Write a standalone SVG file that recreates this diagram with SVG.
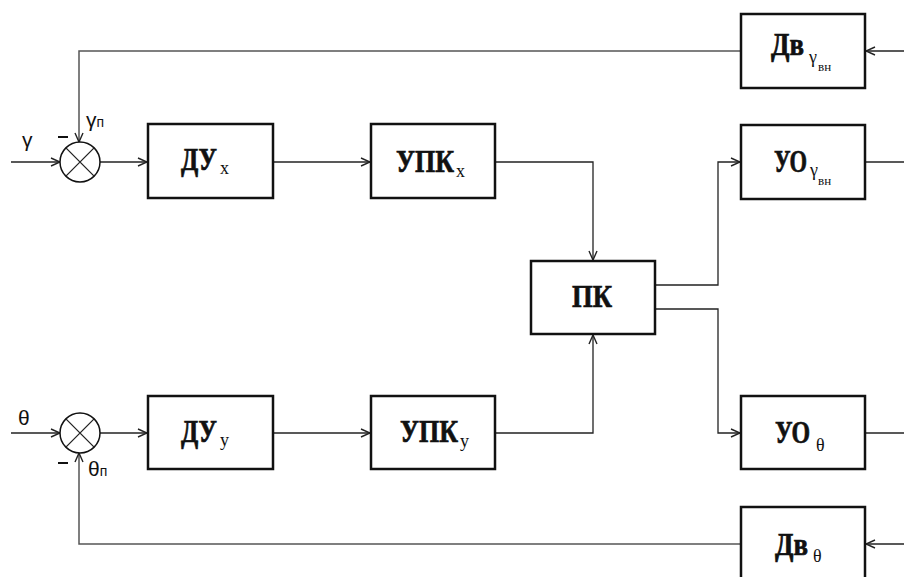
<svg xmlns="http://www.w3.org/2000/svg" width="904" height="577" viewBox="0 0 904 577">
<defs>
<style>
.box{fill:#fff;stroke:#111;stroke-width:2.5}
.ln{fill:none;stroke:#222;stroke-width:1.3}
.fb{fill:none;stroke:#555;stroke-width:1.5}
.sum{fill:#fff;stroke:#111;stroke-width:1.5}
.lbl{font-family:"Liberation Serif","Times New Roman","DejaVu Serif",serif;font-weight:bold;font-size:32px;fill:#111;stroke:#111;stroke-width:0.7}
.sub{font-family:"Liberation Serif","DejaVu Serif",serif;font-size:18px;fill:#111}
.sub2{font-family:"Liberation Serif","DejaVu Serif",serif;font-size:13px;fill:#111}
.sig{font-family:"Liberation Sans","DejaVu Sans",sans-serif;font-size:21px;fill:#111}
.sigs{font-family:"Liberation Sans","DejaVu Sans",sans-serif;font-size:14px;fill:#111}
</style>
<marker id="ar" viewBox="0 0 10 10" refX="10" refY="5" markerWidth="10" markerHeight="10" markerUnits="userSpaceOnUse" orient="auto">
<path d="M1,1 L10,5 L1,9" fill="none" stroke="#222" stroke-width="1.4"/>
</marker>
</defs>
<g id="connectors">
<path class="ln" d="M11,162 H60" marker-end="url(#ar)"/>
<path class="ln" d="M11,433 H60" marker-end="url(#ar)"/>
<path class="ln" d="M100,162 H147" marker-end="url(#ar)"/>
<path class="ln" d="M100,433 H147" marker-end="url(#ar)"/>
<path class="ln" d="M274,162 H370" marker-end="url(#ar)"/>
<path class="ln" d="M274,433 H370" marker-end="url(#ar)"/>
<path class="ln" d="M496,162 H593 V260" marker-end="url(#ar)"/>
<path class="ln" d="M496,433 H593 V335" marker-end="url(#ar)"/>
<path class="ln" d="M656,285 H718 V162 H740" marker-end="url(#ar)"/>
<path class="ln" d="M656,309 H718 V433 H740" marker-end="url(#ar)"/>
<path class="ln" d="M866,162 H904"/>
<path class="ln" d="M866,433 H904"/>
<path class="ln" d="M904,51 H866" marker-end="url(#ar)"/>
<path class="ln" d="M904,544 H866" marker-end="url(#ar)"/>
<path class="fb" d="M740,51 H79 V142" marker-end="url(#ar)"/>
<path class="fb" d="M740,544 H79 V453" marker-end="url(#ar)"/>
</g>
<g id="sum1">
<circle class="sum" cx="80" cy="162" r="20"/>
<path class="ln" d="M65.9,147.9 L94.1,176.1 M94.1,147.9 L65.9,176.1"/>
<text class="sig" x="22" y="147">γ</text>
<text class="sig" x="86" y="127">γ<tspan class="sigs">п</tspan></text>
<path d="M58,137 H68" stroke="#111" stroke-width="2"/>
</g>
<g id="sum2">
<circle class="sum" cx="80" cy="433" r="20"/>
<path class="ln" d="M65.9,418.9 L94.1,447.1 M94.1,418.9 L65.9,447.1"/>
<text class="sig" x="18" y="425">θ</text>
<text class="sig" x="88" y="476">θ<tspan class="sigs">п</tspan></text>
<path d="M58,463 H68" stroke="#111" stroke-width="2"/>
</g>
<g id="DUx">
<rect class="box" x="148" y="124" width="125" height="74"/>
<text class="lbl" x="181" y="170" textLength="36" lengthAdjust="spacingAndGlyphs">ДУ</text>
<text class="sub" x="220" y="174">x</text>
</g>
<g id="DUy">
<rect class="box" x="148" y="396" width="125" height="73"/>
<text class="lbl" x="181" y="442" textLength="36" lengthAdjust="spacingAndGlyphs">ДУ</text>
<text class="sub" x="220" y="446">y</text>
</g>
<g id="UPKx">
<rect class="box" x="371" y="124" width="124" height="74"/>
<text class="lbl" x="396" y="172" textLength="58" lengthAdjust="spacingAndGlyphs">УПК</text>
<text class="sub" x="456" y="177">x</text>
</g>
<g id="UPKy">
<rect class="box" x="371" y="396" width="124" height="73"/>
<text class="lbl" x="400" y="442" textLength="58" lengthAdjust="spacingAndGlyphs">УПК</text>
<text class="sub" x="460" y="447">y</text>
</g>
<g id="PK">
<rect class="box" x="531" y="261" width="124" height="73"/>
<text class="lbl" x="572" y="307" textLength="40" lengthAdjust="spacingAndGlyphs">ПК</text>
</g>
<g id="DvG">
<rect class="box" x="741" y="14" width="124" height="74"/>
<text class="lbl" x="771" y="55" textLength="33" lengthAdjust="spacingAndGlyphs">Дв</text>
<text class="sub" x="809" y="63">γ</text>
<text class="sub2" x="818" y="71">вн</text>
</g>
<g id="UOG">
<rect class="box" x="741" y="125" width="124" height="74"/>
<text class="lbl" x="774" y="172" textLength="33" lengthAdjust="spacingAndGlyphs">УО</text>
<text class="sub" x="810" y="176">γ</text>
<text class="sub2" x="818" y="185">вн</text>
</g>
<g id="UOT">
<rect class="box" x="741" y="396" width="124" height="73"/>
<text class="lbl" x="775" y="443" textLength="35" lengthAdjust="spacingAndGlyphs">УО</text>
<text class="sub" x="816" y="451">θ</text>
</g>
<g id="DvT">
<rect class="box" x="741" y="507" width="124" height="75"/>
<text class="lbl" x="775" y="555" textLength="33" lengthAdjust="spacingAndGlyphs">Дв</text>
<text class="sub" x="813" y="562">θ</text>
</g>
</svg>
